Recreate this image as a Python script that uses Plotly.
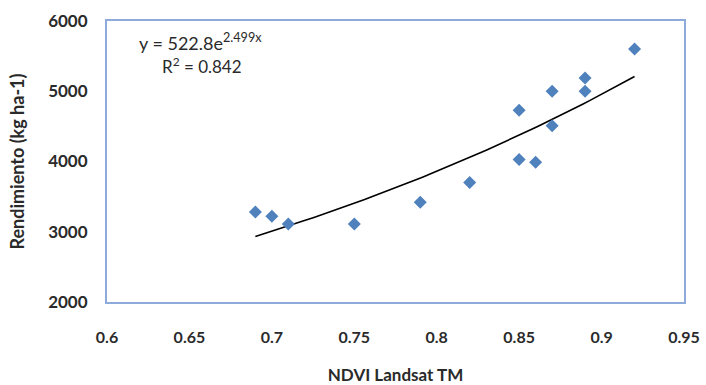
import plotly.graph_objects as go
import numpy as np

ndvi = [0.69, 0.70, 0.71, 0.75, 0.79, 0.82, 0.85, 0.85, 0.86, 0.87, 0.87, 0.89, 0.89, 0.92]
rendimiento = [3280, 3220, 3110, 3110, 3420, 3700, 4730, 4030, 3990, 5000, 4510, 5190, 5000, 5600]
x_ticks = [0.6, 0.65, 0.7, 0.75, 0.8, 0.85, 0.9, 0.95]
y_ticks = [2000, 3000, 4000, 5000, 6000]

# Excel exponential trendline coefficients, as printed on the chart
fit_a = 522.8
fit_b = 2.499
fit_r2 = 0.842

xs = np.linspace(min(ndvi), max(ndvi), 60)
ys = fit_a * np.exp(fit_b * xs)

fig = go.Figure()
fig.add_trace(go.Scatter(x=xs, y=ys, mode="lines",
                         line=dict(color="black", width=1.6), hoverinfo="skip"))
fig.add_trace(go.Scatter(x=ndvi, y=rendimiento, mode="markers",
                         marker=dict(symbol="diamond", size=10, color="#4F81BD")))

font_main = "Lato, Carlito, Arial, sans-serif"
txt = "#2a2a2a"

fig.update_layout(
    width=706, height=385,
    margin=dict(l=107, r=22, t=21, b=83),
    paper_bgcolor="white", plot_bgcolor="white",
    showlegend=False,
    font=dict(family=font_main, color=txt),
    xaxis=dict(range=[0.6, 0.95], tickvals=x_ticks,
               ticktext=[f"{v:g}" for v in x_ticks],
               showgrid=False, zeroline=False, showline=True, linecolor="#8EAADB",
               linewidth=2, mirror=True, ticks="", ticklen=0, automargin=False,
               ticklabelstandoff=20,
               tickfont=dict(size=16, family=font_main, color=txt, weight="bold"),
               title=dict(text="NDVI Landsat TM",
                          font=dict(size=17, family=font_main, color=txt, weight="bold"),
                          standoff=26)),
    yaxis=dict(range=[2000, 6000], tickvals=y_ticks,
               showgrid=False, zeroline=False, showline=True, linecolor="#8EAADB",
               linewidth=2, mirror=True, ticks="", automargin=False,
               ticklabelstandoff=14,
               tickfont=dict(size=17, family=font_main, color=txt, weight="bold"),
               title=dict(text="Rendimiento (kg ha-1)",
                          font=dict(size=18, family=font_main, color=txt, weight="bold"),
                          standoff=19)),
)

fig.add_annotation(xref="paper", yref="paper", x=0.052, y=0.925, xanchor="left", yanchor="middle",
                   text=f"y = {fit_a}e<sup>{fit_b}x</sup>", showarrow=False,
                   font=dict(size=18, family=font_main, color=txt))
fig.add_annotation(xref="paper", yref="paper", x=0.092, y=0.843, xanchor="left", yanchor="middle",
                   text=f"R<sup>2</sup> = {fit_r2}", showarrow=False,
                   font=dict(size=17, family=font_main, color=txt))

fig.write_html("out.html")
